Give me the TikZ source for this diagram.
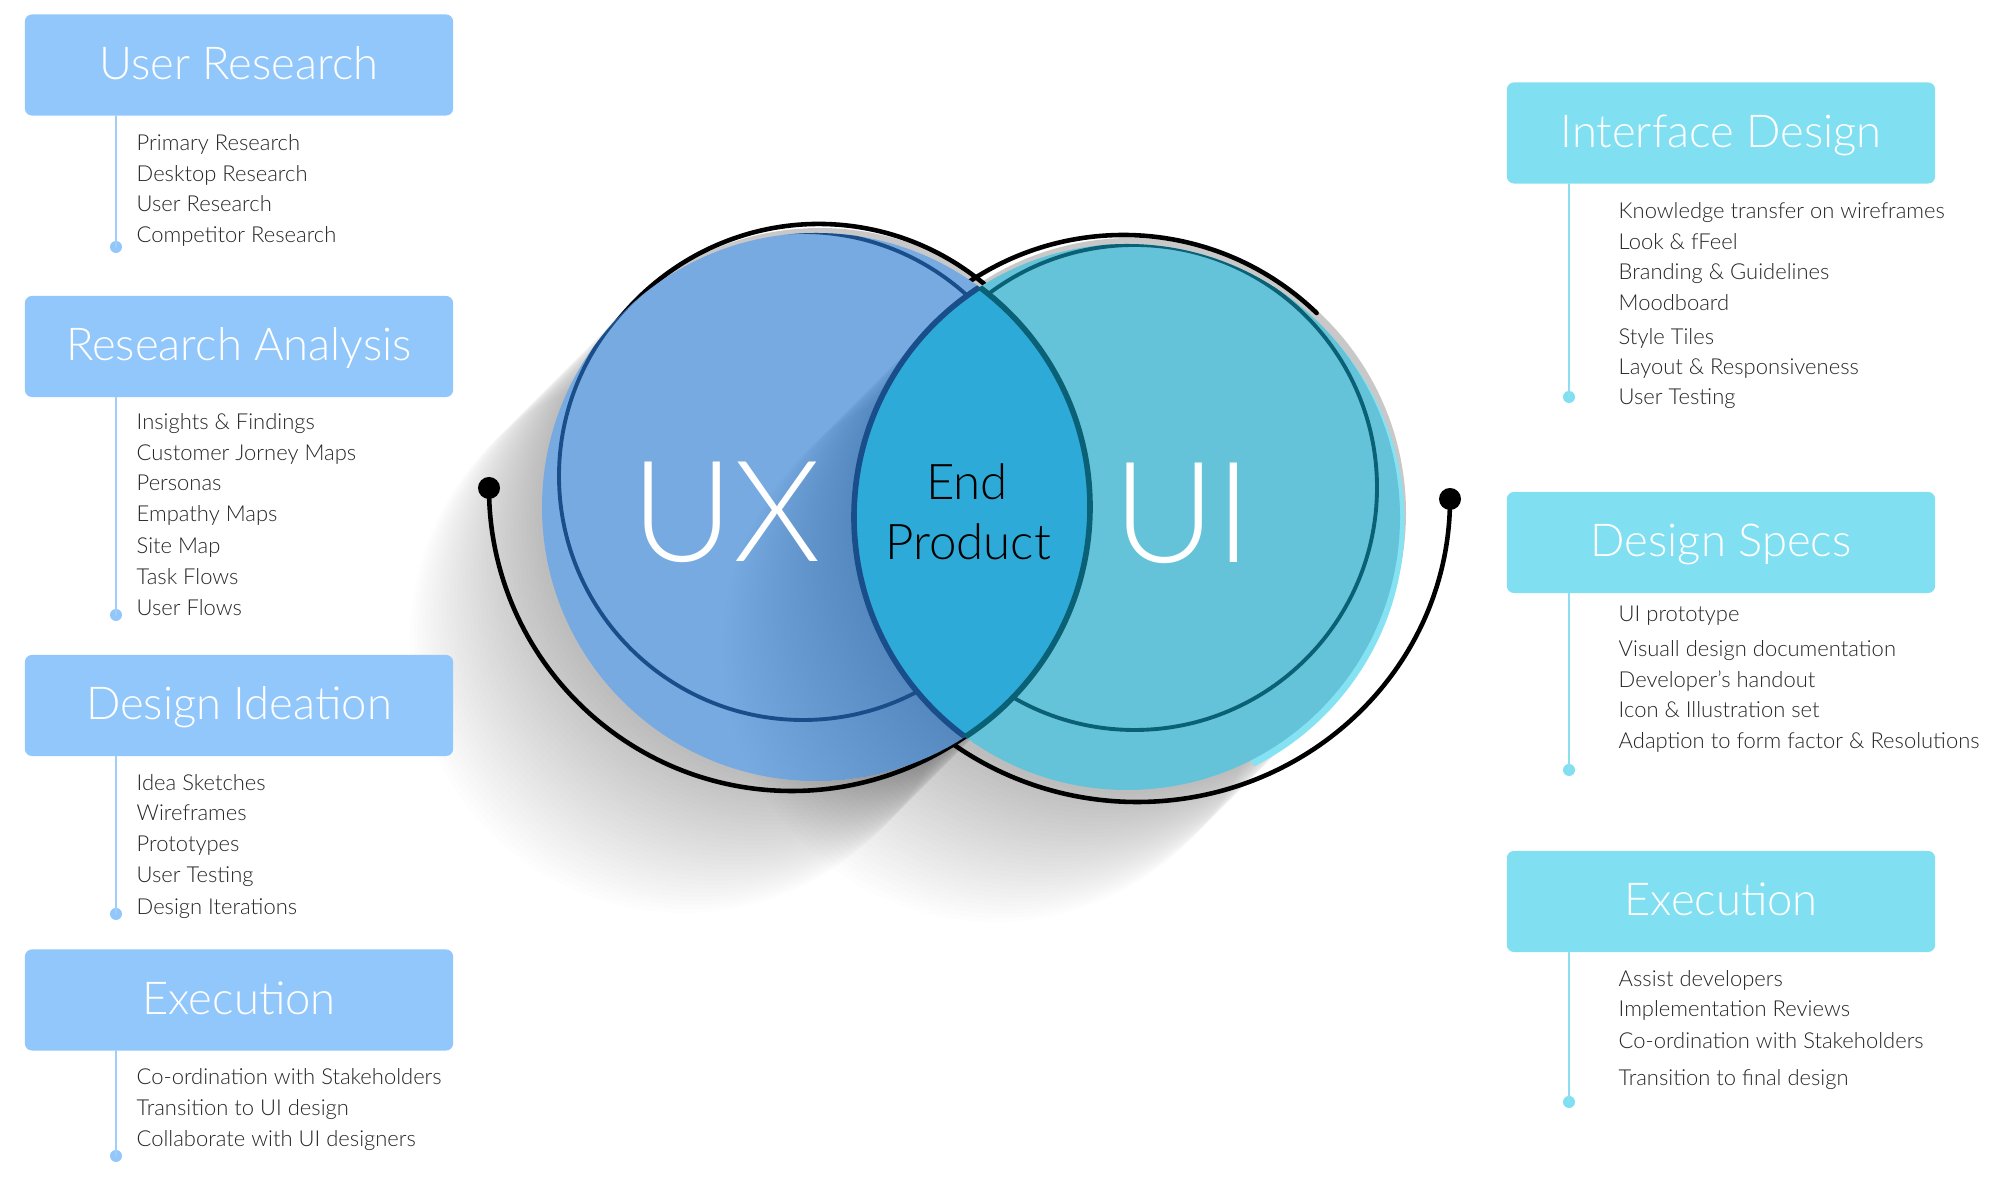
\documentclass[tikz,border=0pt]{standalone}
\usepackage{fontspec}
\setmainfont{Lato}
\newfontfamily\thinfont{Lato Light}
\usepackage{pgf,tikz}
\usetikzlibrary{positioning}

\definecolor{boxblue}{RGB}{146,199,252}
\definecolor{boxcyan}{RGB}{128,224,242}
\definecolor{lineblue}{RGB}{160,205,250}
\definecolor{linecyan}{RGB}{140,222,240}
\definecolor{itemgray}{RGB}{38,38,38}
\definecolor{uxfill}{RGB}{118,170,224}
\definecolor{uifill}{RGB}{100,195,216}
\definecolor{lensfill}{RGB}{46,170,217}
\definecolor{uxring}{RGB}{26,78,138}
\definecolor{uiring}{RGB}{10,96,117}
\definecolor{rimgray}{RGB}{200,200,200}
\definecolor{rimcyan}{RGB}{132,226,242}

\tikzset{
  leftbox/.style={fill=boxblue,rounded corners=2pt,minimum width=4.28cm,minimum height=1.01cm,
    inner sep=0pt,text height=8pt,text depth=0pt,text=white,font=\thinfont\fontsize{12.9}{15}\selectfont},
  rightbox/.style={leftbox,fill=boxcyan},
  item/.style={anchor=base west,inner sep=0pt,text=itemgray,font=\thinfont\fontsize{6.25}{8}\selectfont},
  leftline/.style={draw=lineblue,line width=0.6pt},
  rightline/.style={draw=linecyan,line width=0.6pt},
  leftdot/.style={circle,fill=boxblue,inner sep=0pt,minimum size=0.12cm},
  rightdot/.style={circle,fill=boxcyan,inner sep=0pt,minimum size=0.12cm},
  blackline/.style={draw=black,line width=1.3pt},
  enddot/.style={circle,fill=black,inner sep=0pt,minimum size=0.22cm},
  bigtext/.style={anchor=base,inner sep=0pt,text=white,font=\thinfont\fontsize{40}{40}\selectfont},
  midtext/.style={anchor=base,inner sep=0pt,text=black,font=\thinfont\fontsize{14}{16}\selectfont}
}

\begin{document}
\begin{tikzpicture}[line cap=round,line join=round,x=0.01cm,y=-0.01cm]
\useasboundingbox (0,0) rectangle (1999,1177);
\fill[white] (0,0) rectangle (1999,1177);

% long shadow of the two circles
\foreach \t in {4,8,...,132} {
  \fill[black,opacity=0.008] (816-\t,507+\t) circle[radius=274];
  \fill[black,opacity=0.008] (1127-\t,517+\t) circle[radius=273];
}

% rims behind the circles
\fill[rimgray] (820,503) circle[radius=275];
\fill[rimgray] (1131,513) circle[radius=275];
\begin{scope}
\clip (1127,517) -- +(-100:500) -- +(-20:600) -- +(30:600) -- +(63:500) -- cycle;
\fill[rimcyan] (1131.5,522.4) circle[radius=273];
\end{scope}

% black outline with end dots
\node[enddot] (uxdot) at (489,488) {};
\node[enddot] (uidot) at (1450,499) {};
\draw[blackline] (uxdot.center) arc[start angle=180,end angle=54,radius=303];
\draw[blackline] (uidot.center) arc[start angle=0,end angle=126,x radius=313,y radius=303];
\draw[blackline] (819,481.5) ++(-170:257.5) arc[start angle=-170,end angle=-50,radius=257.5];
\draw[blackline] (1123.5,513) ++(-127:278) arc[start angle=-127,end angle=-46,radius=278];

% the two circles
\fill[uxfill] (816,507) circle[radius=274];
\fill[uifill] (1127,517) circle[radius=273];
\begin{scope}
\clip (816,507) circle[radius=274];
\foreach \t in {4,8,...,132}
  \fill[black,opacity=0.005] (1127-\t,517+\t) circle[radius=273];
\end{scope}

% inner rings
\begin{scope}
\clip (816,507) circle[radius=274];
\draw[uxring,line width=1.1pt] (803,476) circle[radius=244];
\end{scope}
\begin{scope}
\clip (1127,517) circle[radius=273];
\draw[uiring,line width=1.1pt] (1134.5,487.5) circle[radius=242.5];
\end{scope}

% overlap
\begin{scope}
\clip (816,507) circle[radius=274];
\fill[lensfill] (1127,517) circle[radius=273];
\draw[uxring,line width=1.6pt] (1127,517) circle[radius=273];
\end{scope}
\begin{scope}
\clip (1127,517) circle[radius=273];
\draw[uiring,line width=1.6pt] (816,507) circle[radius=274];
\end{scope}

\node[bigtext] (ux) at (726,562) {UX};
\node[bigtext] (ui) at (1183,563) {UI};
\node[midtext] (endw) at (967,500) {End};
\node[midtext] (prodw) at (968,560) {Product};

% left column
\node[leftbox] (ur) at (239,65) {User Research};
\node[leftdot] (urdot) at (116,247) {};
\draw[leftline] (ur.south -| urdot) -- (urdot.center);
\node[item] (ur1) at (136,151) {Primary Research};
\node[item] (ur2) at (136,182) {Desktop Research};
\node[item] (ur3) at (136,212) {User Research};
\node[item] (ur4) at (136,243) {Competitor Research};

\node[leftbox] (ra) at (239,346.5) {Research Analysis};
\node[leftdot] (radot) at (116,615) {};
\draw[leftline] (ra.south -| radot) -- (radot.center);
\node[item] (ra1) at (136,430) {Insights \& Findings};
\node[item] (ra2) at (136,461) {Customer Jorney Maps};
\node[item] (ra3) at (136,491) {Personas};
\node[item] (ra4) at (136,522) {Empathy Maps};
\node[item] (ra5) at (136,554) {Site Map};
\node[item] (ra6) at (136,585) {Task Flows};
\node[item] (ra7) at (136,616) {User Flows};

\node[leftbox] (di) at (239,705.5) {Design Ideation};
\node[leftdot] (didot) at (116,914) {};
\draw[leftline] (di.south -| didot) -- (didot.center);
\node[item] (di1) at (136,791) {Idea Sketches};
\node[item] (di2) at (136,821) {Wireframes};
\node[item] (di3) at (136,852) {Prototypes};
\node[item] (di4) at (136,883) {User Testing};
\node[item] (di5) at (136,915) {Design Iterations};

\node[leftbox] (exl) at (239,1000) {Execution};
\node[leftdot] (exldot) at (116,1156) {};
\draw[leftline] (exl.south -| exldot) -- (exldot.center);
\node[item] (exl1) at (136,1085) {Co-ordination with Stakeholders};
\node[item] (exl2) at (136,1116) {Transition to UI design};
\node[item] (exl3) at (136,1147) {Collaborate with UI designers};

% right column
\node[rightbox] (id) at (1721,133) {Interface Design};
\node[rightdot] (iddot) at (1569,397) {};
\draw[rightline] (id.south -| iddot) -- (iddot.center);
\node[item] (id1) at (1618,219) {Knowledge transfer on wireframes};
\node[item] (id2) at (1618,250) {Look \& fFeel};
\node[item] (id3) at (1618,280) {Branding \& Guidelines};
\node[item] (id4) at (1618,311) {Moodboard};
\node[item] (id5) at (1618,345) {Style Tiles};
\node[item] (id6) at (1618,375) {Layout \& Responsiveness};
\node[item] (id7) at (1618,405) {User Testing};

\node[rightbox] (ds) at (1721,542.5) {Design Specs};
\node[rightdot] (dsdot) at (1569,770) {};
\draw[rightline] (ds.south -| dsdot) -- (dsdot.center);
\node[item] (ds1) at (1618,622) {UI prototype};
\node[item] (ds2) at (1618,657) {Visuall design documentation};
\node[item] (ds3) at (1618,688) {Developer’s handout};
\node[item] (ds4) at (1618,718) {Icon \& Illustration set};
\node[item] (ds5) at (1618,749) {Adaption to form factor \& Resolutions};

\node[rightbox] (exr) at (1721,901.5) {Execution};
\node[rightdot] (exrdot) at (1569,1102) {};
\draw[rightline] (exr.south -| exrdot) -- (exrdot.center);
\node[item] (exr1) at (1618,987) {Assist developers};
\node[item] (exr2) at (1618,1017) {Implementation Reviews};
\node[item] (exr3) at (1618,1049) {Co-ordination with Stakeholders};
\node[item] (exr4) at (1618,1086) {Transition to final design};
\end{tikzpicture}
\end{document}
